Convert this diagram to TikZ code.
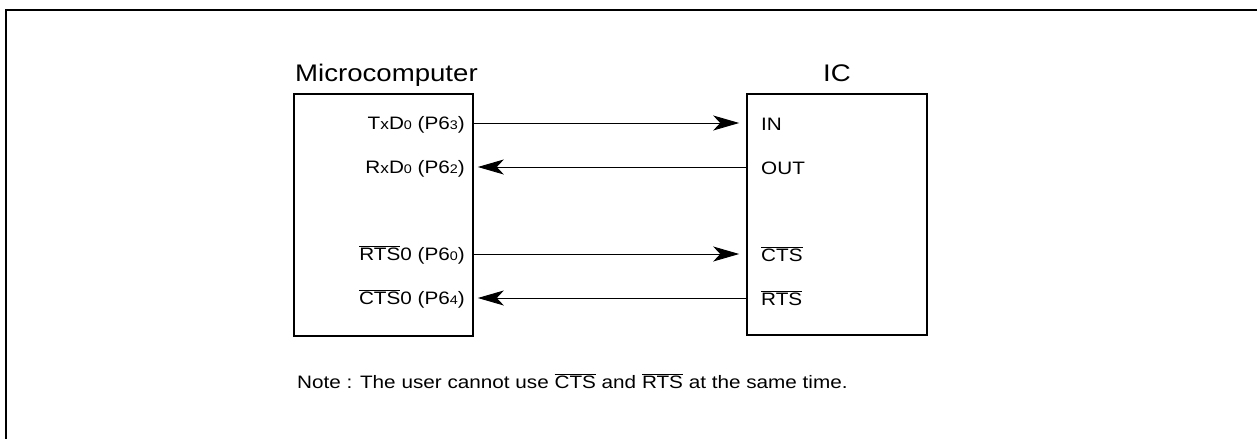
\documentclass[tikz,border=0pt]{standalone}
\usepackage{fontspec}
\setmainfont[FakeStretch=1.15]{Liberation Sans}
\usetikzlibrary{arrows.meta}
\newcommand\sm[1]{{\fontsize{12.5}{12.5}\selectfont #1}}
\newcommand\smx[1]{{\fontsize{15}{15}\selectfont #1}}
\newcommand\ovl[1]{\ensuremath{\overline{\hbox{#1}}}}
\begin{document}
\begin{tikzpicture}[x=1pt,y=1pt,
  frame/.style={line width=2pt},
  chip/.style={draw, line width=1.6pt, inner sep=0pt},
  title/.style={font=\fontsize{24}{28}\selectfont, inner sep=0pt},
  lbl/.style={font=\fontsize{18}{20}\selectfont, inner sep=0pt},
  wire/.style={line width=0.9pt},
  tip/.style={-{Stealth[length=26pt,width=15pt,inset=7pt]}}
]
\useasboundingbox (0,0) rectangle (1257,-439);
% outer frame (top and left only)
\coordinate (fTL) at (6,-10);
\coordinate (fTR) at (1257,-10);
\coordinate (fBL) at (6,-439);
\draw[frame] (fTR) -- (fTL) -- (fBL);

% boxes
\node[chip, minimum width=179pt, minimum height=242pt] (mc) at (383.5,-215) {};
\node[chip, minimum width=180pt, minimum height=241pt] (ic) at (837,-214.5) {};

% titles
\node[title, anchor=base west] (mct) at (295,-81) {Microcomputer};
\node[title, anchor=base] (ict) at (837,-81) {IC};

% microcomputer pin labels
\node[lbl, anchor=base east] (m1) at (465,-129) {T\smx{x}D\sm{0} (P6\sm{3})};
\node[lbl, anchor=base east] (m2) at (465,-173) {R\smx{x}D\sm{0} (P6\sm{2})};
\node[lbl, anchor=base east] (m3) at (465,-260) {\ovl{RTS}0 (P6\sm{0})};
\node[lbl, anchor=base east] (m4) at (465,-304) {\ovl{CTS}0 (P6\sm{4})};

% IC pin labels
\node[lbl, anchor=base west] (i1) at (761,-130) {IN};
\node[lbl, anchor=base west] (i2) at (761,-174) {OUT};
\node[lbl, anchor=base west] (i3) at (761,-261) {\ovl{CTS}};
\node[lbl, anchor=base west] (i4) at (761,-305) {\ovl{RTS}};

% connection points
\coordinate (a1) at (mc.east |- 0,-123);
\coordinate (b1) at (ic.west |- 0,-123);
\coordinate (a2) at (mc.east |- 0,-167);
\coordinate (b2) at (ic.west |- 0,-167);
\coordinate (a3) at (mc.east |- 0,-254);
\coordinate (b3) at (ic.west |- 0,-254);
\coordinate (a4) at (mc.east |- 0,-298);
\coordinate (b4) at (ic.west |- 0,-298);

\draw[wire, tip, shorten >=7pt] (a1) -- (b1);
\draw[wire, tip, shorten >=4pt] (b2) -- (a2);
\draw[wire, tip, shorten >=7pt] (a3) -- (b3);
\draw[wire, tip, shorten >=4pt] (b4) -- (a4);

% note
\node[lbl, anchor=base west] (note) at (297,-388) {Note : The user cannot use \ovl{CTS} and \ovl{RTS} at the same time.};
\end{tikzpicture}
\end{document}
